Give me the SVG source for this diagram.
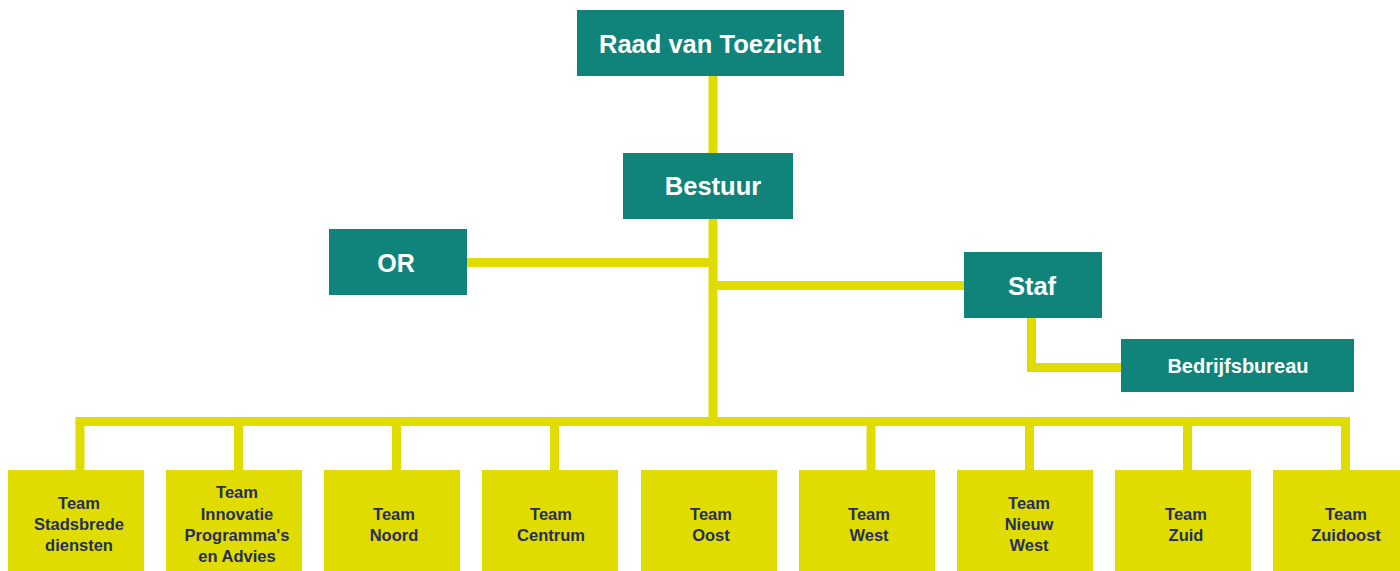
<svg xmlns="http://www.w3.org/2000/svg" width="1400" height="571" viewBox="0 0 1400 571">
<style>
.teal{fill:#10847A}
.yel{fill:#E0DC00}
.ht{font-family:"Liberation Sans",Arial,sans-serif;font-weight:bold;fill:#FFFFFF;text-anchor:middle}
.tt{font-family:"Liberation Sans",Arial,sans-serif;font-weight:bold;font-size:16.5px;fill:#262E5E;text-anchor:middle}
.con{stroke:#E0DC00;stroke-width:9;fill:none;stroke-linecap:butt}
</style>
<rect width="1400" height="571" fill="#FFFFFF"/>
<g id="connectors">
<line class="con" x1="713" y1="75" x2="713" y2="421.5"/>
<line class="con" x1="467" y1="262.5" x2="713" y2="262.5"/>
<line class="con" x1="713" y1="285.5" x2="964" y2="285.5"/>
<polyline class="con" points="1031.5,318 1031.5,367.5 1121,367.5"/>
<line class="con" x1="75.5" y1="421.5" x2="1350" y2="421.5"/>
<line class="con" x1="80" y1="421" x2="80" y2="470"/>
<line class="con" x1="238.5" y1="421" x2="238.5" y2="470"/>
<line class="con" x1="396.5" y1="421" x2="396.5" y2="470"/>
<line class="con" x1="554.5" y1="421" x2="554.5" y2="470"/>
<line class="con" x1="871" y1="421" x2="871" y2="470"/>
<line class="con" x1="1029.5" y1="421" x2="1029.5" y2="470"/>
<line class="con" x1="1187.5" y1="421" x2="1187.5" y2="470"/>
<line class="con" x1="1345.5" y1="417" x2="1345.5" y2="470"/>
</g>
<g id="raad"><rect class="teal" x="577" y="10" width="267" height="66"/><text class="ht" x="710" y="52.5" font-size="25.5">Raad van Toezicht</text></g>
<g id="bestuur"><rect class="teal" x="623" y="153" width="170" height="66"/><text class="ht" x="713" y="195" font-size="25.5">Bestuur</text></g>
<g id="or"><rect class="teal" x="329" y="229" width="138" height="66"/><text class="ht" x="396" y="271.5" font-size="25">OR</text></g>
<g id="staf"><rect class="teal" x="964" y="252" width="138" height="66"/><text class="ht" x="1032" y="294.5" font-size="25.5">Staf</text></g>
<g id="bedrijfsbureau"><rect class="teal" x="1121" y="339" width="233" height="53"/><text class="ht" x="1238" y="372.5" font-size="20">Bedrijfsbureau</text></g>
<g id="team1"><rect class="yel" x="8" y="470" width="136" height="101"/><text class="tt" x="79"><tspan x="79" y="509">Team</tspan><tspan x="79" y="530">Stadsbrede</tspan><tspan x="79" y="551">diensten</tspan></text></g>
<g id="team2"><rect class="yel" x="166" y="470" width="136" height="101"/><text class="tt"><tspan x="237" y="498">Team</tspan><tspan x="237" y="520">Innovatie</tspan><tspan x="237" y="541">Programma's</tspan><tspan x="237" y="562">en Advies</tspan></text></g>
<g id="team3"><rect class="yel" x="324" y="470" width="136" height="101"/><text class="tt"><tspan x="394" y="520">Team</tspan><tspan x="394" y="541">Noord</tspan></text></g>
<g id="team4"><rect class="yel" x="482" y="470" width="136" height="101"/><text class="tt"><tspan x="551" y="520">Team</tspan><tspan x="551" y="541">Centrum</tspan></text></g>
<g id="team5"><rect class="yel" x="641" y="470" width="136" height="101"/><text class="tt"><tspan x="711" y="520">Team</tspan><tspan x="711" y="541">Oost</tspan></text></g>
<g id="team6"><rect class="yel" x="799" y="470" width="136" height="101"/><text class="tt"><tspan x="869" y="520">Team</tspan><tspan x="869" y="541">West</tspan></text></g>
<g id="team7"><rect class="yel" x="957" y="470" width="136" height="101"/><text class="tt"><tspan x="1029" y="509">Team</tspan><tspan x="1029" y="530">Nieuw</tspan><tspan x="1029" y="551">West</tspan></text></g>
<g id="team8"><rect class="yel" x="1115" y="470" width="136" height="101"/><text class="tt"><tspan x="1186" y="520">Team</tspan><tspan x="1186" y="541">Zuid</tspan></text></g>
<g id="team9"><rect class="yel" x="1273" y="470" width="136" height="101"/><text class="tt"><tspan x="1346" y="520">Team</tspan><tspan x="1346" y="541">Zuidoost</tspan></text></g>
</svg>
